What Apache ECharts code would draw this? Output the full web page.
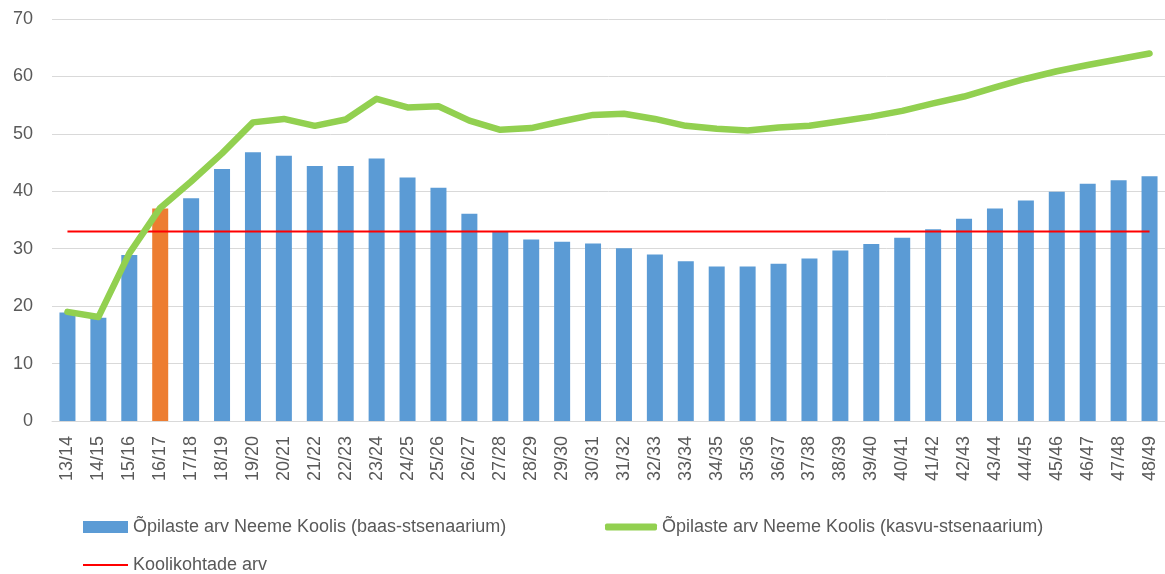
<!DOCTYPE html>
<html>
<head>
<meta charset="utf-8">
<style>
    html, body { margin: 0; padding: 0; background: #fff; }
    #main { width: 1165px; height: 574px; }
</style>
<script src="https://cdn.jsdelivr.net/npm/echarts@6/dist/echarts.min.js"></script>
</head>
<body>
<div id="main"></div>
<script>
    // aastad
    const categories = ['13/14', '14/15', '15/16', '16/17', '17/18', '18/19', '19/20', '20/21', '21/22', '22/23',
        '23/24', '24/25', '25/26', '26/27', '27/28', '28/29', '29/30', '30/31', '31/32', '32/33',
        '33/34', '34/35', '35/36', '36/37', '37/38', '38/39', '39/40', '40/41', '41/42', '42/43',
        '43/44', '44/45', '45/46', '46/47', '47/48', '48/49'];
    // baas-stsenaarium (tulbad)
    const baseValues = [18.9, 18.0, 28.9, 37.0, 38.8, 43.9, 46.8, 46.2, 44.4, 44.4,
        45.7, 42.4, 40.6, 36.1, 33.0, 31.6, 31.2, 30.9, 30.1, 29.0,
        27.8, 26.9, 26.9, 27.4, 28.3, 29.7, 30.8, 31.9, 33.4, 35.2,
        37.0, 38.4, 39.9, 41.3, 41.9, 42.6];
    // kasvu-stsenaarium (roheline joon)
    const growthValues = [19.0, 18.1, 29.2, 37.1, 41.7, 46.6, 52.0, 52.6, 51.4, 52.5,
        56.1, 54.6, 54.8, 52.3, 50.7, 51.0, 52.2, 53.3, 53.5, 52.6,
        51.4, 50.9, 50.6, 51.1, 51.4, 52.2, 53.0, 54.0, 55.3, 56.5,
        58.1, 59.6, 60.9, 62.0, 63.0, 64.0];
    // koolikohtade arv
    const capacityValues = [33, 33, 33, 33, 33, 33, 33, 33, 33, 33,
        33, 33, 33, 33, 33, 33, 33, 33, 33, 33,
        33, 33, 33, 33, 33, 33, 33, 33, 33, 33,
        33, 33, 33, 33, 33, 33];
    const currentYear = '16/17';
    const yTicks = [0, 10, 20, 30, 40, 50, 60, 70];

    const font = '"Liberation Sans", Arial, sans-serif';
    const textColor = '#595959';

    const barData = baseValues.map((v, i) => categories[i] === currentYear
        ? { value: v, itemStyle: { color: '#ED7D31' } }
        : v);

    const legendText = { color: textColor, fontSize: 18, fontFamily: font };

    const chart = echarts.init(document.getElementById('main'));
    const option = {
        animation: false,
        textStyle: { fontFamily: font },
        grid: {
            left: 52,
            top: 19,
            width: 1121,
            height: 402
        },
        legend: [{
            left: 78,
            top: 513,
            itemWidth: 45,
            itemHeight: 12,
            icon: 'rect',
            textStyle: legendText,
            data: ['Õpilaste arv Neeme Koolis (baas-stsenaarium)']
        }, {
            left: 600,
            top: 513,
            itemWidth: 52,
            itemHeight: 7,
            icon: 'roundRect',
            textStyle: legendText,
            data: ['Õpilaste arv Neeme Koolis (kasvu-stsenaarium)']
        }, {
            left: 78,
            top: 551,
            itemWidth: 45,
            itemHeight: 2,
            icon: 'rect',
            textStyle: legendText,
            data: ['Koolikohtade arv']
        }],
        xAxis: {
            type: 'category',
            data: categories,
            axisTick: { show: false },
            axisLine: { lineStyle: { color: '#D9D9D9', width: 1 } },
            axisLabel: {
                interval: 0,
                rotate: 90,
                margin: 15,
                color: textColor,
                fontSize: 18,
                fontFamily: font
            }
        },
        yAxis: {
            type: 'value',
            min: yTicks[0],
            max: yTicks[yTicks.length - 1],
            interval: 10,
            axisLine: { show: false },
            axisTick: { show: false },
            axisLabel: {
                margin: 19,
                color: textColor,
                fontSize: 18,
                fontFamily: font
            },
            splitLine: { lineStyle: { color: '#D9D9D9', width: 1 } }
        },
        series: [{
            name: 'Õpilaste arv Neeme Koolis (baas-stsenaarium)',
            type: 'bar',
            barWidth: 16,
            itemStyle: { color: '#5B9BD5' },
            data: barData
        }, {
            name: 'Õpilaste arv Neeme Koolis (kasvu-stsenaarium)',
            type: 'line',
            symbol: 'none',
            z: 4,
            itemStyle: { color: '#92D050' },
            lineStyle: { color: '#92D050', width: 6.5, cap: 'round', join: 'round' },
            data: growthValues
        }, {
            name: 'Koolikohtade arv',
            type: 'line',
            symbol: 'none',
            z: 3,
            itemStyle: { color: '#FF0000' },
            lineStyle: { color: '#FF0000', width: 2 },
            data: capacityValues
        }]
    };
    chart.setOption(option);
</script>
</body>
</html>
